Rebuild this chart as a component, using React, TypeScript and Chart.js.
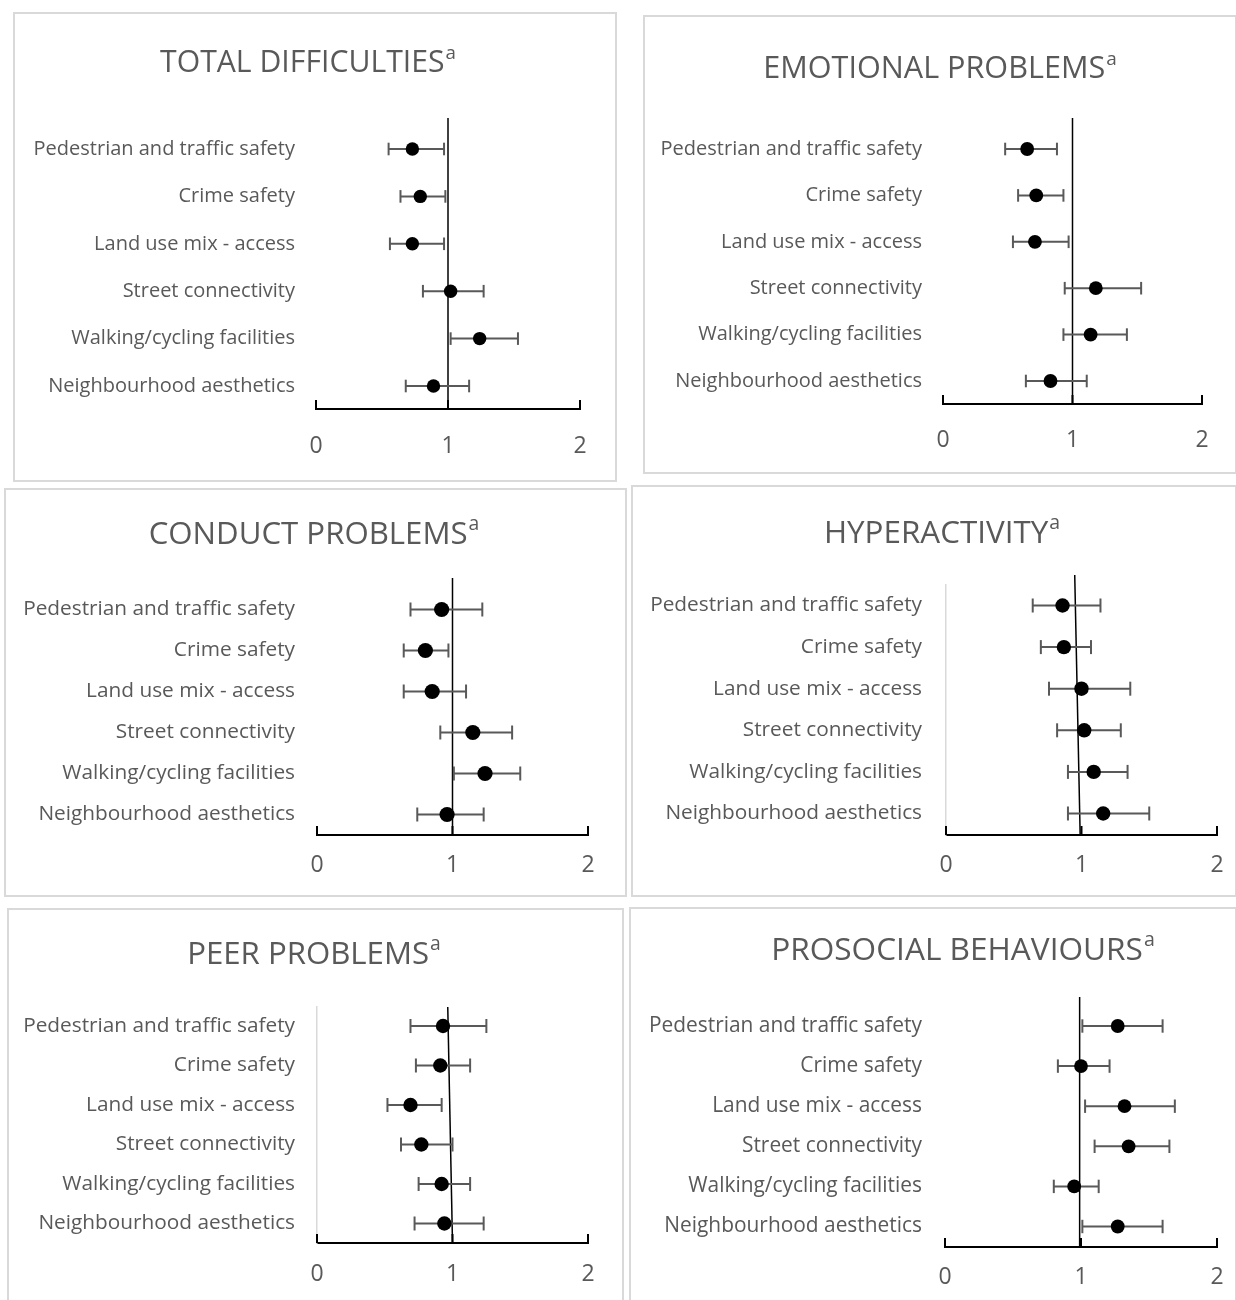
import React, { useEffect, useRef } from "react";
import { Chart, registerables } from "chart.js";

Chart.register(...registerables);

// ---------------- DATA ----------------
const categories = [
  "Pedestrian and traffic safety",
  "Crime safety",
  "Land use mix - access",
  "Street connectivity",
  "Walking/cycling facilities",
  "Neighbourhood aesthetics",
];

const panelTitles = [
  "TOTAL DIFFICULTIES",
  "EMOTIONAL PROBLEMS",
  "CONDUCT PROBLEMS",
  "HYPERACTIVITY",
  "PEER PROBLEMS",
  "PROSOCIAL BEHAVIOURS",
];
const titleSuperscript = "a";

const xTickValues = [0, 1, 2];

const totalOR = [0.73, 0.79, 0.73, 1.02, 1.24, 0.89];
const totalLower = [0.55, 0.64, 0.56, 0.81, 1.02, 0.68];
const totalUpper = [0.97, 0.98, 0.97, 1.27, 1.53, 1.16];

const emotionalOR = [0.65, 0.72, 0.71, 1.18, 1.14, 0.83];
const emotionalLower = [0.48, 0.58, 0.54, 0.94, 0.93, 0.64];
const emotionalUpper = [0.88, 0.93, 0.97, 1.53, 1.42, 1.11];

const conductOR = [0.92, 0.8, 0.85, 1.15, 1.24, 0.96];
const conductLower = [0.69, 0.64, 0.64, 0.91, 1.01, 0.74];
const conductUpper = [1.22, 0.97, 1.1, 1.44, 1.5, 1.23];

const hyperOR = [0.86, 0.87, 1.0, 1.02, 1.09, 1.16];
const hyperLower = [0.64, 0.7, 0.76, 0.82, 0.9, 0.9];
const hyperUpper = [1.14, 1.07, 1.36, 1.29, 1.34, 1.5];

const peerOR = [0.93, 0.91, 0.69, 0.77, 0.92, 0.94];
const peerLower = [0.69, 0.73, 0.52, 0.62, 0.75, 0.72];
const peerUpper = [1.25, 1.13, 0.92, 1.0, 1.13, 1.23];

const prosocialOR = [1.27, 1.0, 1.32, 1.35, 0.95, 1.27];
const prosocialLower = [1.01, 0.83, 1.03, 1.1, 0.8, 1.01];
const prosocialUpper = [1.6, 1.21, 1.69, 1.65, 1.13, 1.6];

// reference line (x at the bottom and at the top of each panel)
const refLineBottom = [1, 1, 1, 0.99, 1.0, 0.99];
const refLineTop = [1, 1, 1, 0.95, 0.965, 0.99];

const panelOR = [totalOR, emotionalOR, conductOR, hyperOR, peerOR, prosocialOR];
const panelLower = [totalLower, emotionalLower, conductLower, hyperLower, peerLower, prosocialLower];
const panelUpper = [totalUpper, emotionalUpper, conductUpper, hyperUpper, peerUpper, prosocialUpper];

// ---------------- LAYOUT (pixels) ----------------
type Geom = {
  L: number; T: number; R: number; B: number;
  x0: number; x2: number;
  top: number; refTop: number; row1: number; row6: number; axis: number;
  yAxisLine: boolean;
  titleX: number; titleY: number; titleSize: number;
  labelSize: number; labelGap: number; tickPad: number;
  dot: number; cap: number;
};

const geoms: Geom[] = [
  { L: 14, T: 13, R: 616, B: 481, x0: 316, x2: 580, top: 118, refTop: 118, row1: 149, row6: 386, axis: 409, yAxisLine: false, titleX: 308, titleY: 61, titleSize: 30.2, labelSize: 20, labelGap: 21, tickPad: 24, dot: 6.7, cap: 6.3 },
  { L: 644, T: 16, R: 1236, B: 473, x0: 943, x2: 1202, top: 118, refTop: 118, row1: 149, row6: 381, axis: 404, yAxisLine: false, titleX: 940, titleY: 66, titleSize: 30.6, labelSize: 20, labelGap: 21, tickPad: 23, dot: 6.9, cap: 6.3 },
  { L: 5, T: 489, R: 626, B: 896, x0: 317, x2: 588, top: 578, refTop: 578, row1: 609.5, row6: 814.5, axis: 835, yAxisLine: false, titleX: 314, titleY: 533, titleSize: 31.2, labelSize: 20.8, labelGap: 22, tickPad: 17, dot: 7.6, cap: 7 },
  { L: 632, T: 486, R: 1236, B: 896, x0: 946, x2: 1217, top: 585, refTop: 575, row1: 605.5, row6: 813.5, axis: 835, yAxisLine: true, titleX: 942, titleY: 531, titleSize: 31.4, labelSize: 20.8, labelGap: 24, tickPad: 17, dot: 7.2, cap: 7 },
  { L: 8, T: 909, R: 623, B: 1302, x0: 317, x2: 588, top: 1007, refTop: 1007, row1: 1026, row6: 1223.5, axis: 1243, yAxisLine: true, titleX: 314, titleY: 953, titleSize: 31.2, labelSize: 20.8, labelGap: 22, tickPad: 18, dot: 7.2, cap: 7 },
  { L: 630, T: 908, R: 1236, B: 1302, x0: 945, x2: 1217, top: 997, refTop: 997, row1: 1026, row6: 1226.5, axis: 1247, yAxisLine: false, titleX: 963, titleY: 948, titleSize: 31.6, labelSize: 20.9, labelGap: 23, tickPad: 17, dot: 6.9, cap: 6.7 },
];

const FONT = "'Open Sans', 'Noto Sans', sans-serif";
const TEXT = "#595959";

const innerTicks = {
  id: "innerTicks",
  afterDraw(chart: any) {
    const xs = chart.scales.x;
    const ctx = chart.ctx;
    const y = chart.chartArea.bottom;
    ctx.save();
    ctx.strokeStyle = "#000";
    ctx.lineWidth = 2;
    xs.ticks.forEach((t: any) => {
      const px = xs.getPixelForValue(t.value);
      ctx.beginPath();
      ctx.moveTo(px, y);
      ctx.lineTo(px, y - 9);
      ctx.stroke();
    });
    ctx.restore();
  },
};

function ForestPanel({ idx }: { idx: number }) {
  const ref = useRef<HTMLCanvasElement | null>(null);
  const g = geoms[idx];
  const W = g.R - g.L;
  const H = g.B - g.T;

  useEffect(() => {
    if (!ref.current) return;
    const n = categories.length;
    const s = (g.row6 - g.row1) / (n - 1);
    const yMax = n + (g.row1 - g.top) / s;
    const yMin = 1 - (g.axis - g.row6) / s;
    const yRefTop = n + (g.row1 - g.refTop) / s;
    const rowVal = (i: number) => n - i;

    const dots = panelOR[idx].map((v, i) => ({ x: v, y: rowVal(i) }));
    const ci: any[] = [];
    panelLower[idx].forEach((lo, i) => {
      ci.push({ x: lo, y: rowVal(i) });
      ci.push({ x: panelUpper[idx][i], y: rowVal(i) });
      ci.push({ x: null, y: null });
    });

    const chart = new Chart(ref.current, {
      type: "scatter",
      data: {
        datasets: [
          {
            data: dots,
            pointRadius: g.dot,
            pointBackgroundColor: "#000",
            pointBorderColor: "#000",
            pointBorderWidth: 0,
            showLine: false,
          } as any,
          {
            data: ci,
            showLine: true,
            spanGaps: false,
            borderColor: "#595959",
            borderWidth: 2,
            pointStyle: "line",
            pointRotation: 90,
            pointRadius: g.cap,
            pointBorderColor: "#595959",
            pointBorderWidth: 2,
            tension: 0,
          } as any,
          {
            data: [
              { x: refLineBottom[idx], y: yMin },
              { x: refLineTop[idx], y: yRefTop },
            ],
            showLine: true,
            borderColor: "#000",
            borderWidth: 1.5,
            pointRadius: 0,
            clip: false,
          } as any,
        ],
      },
      options: {
        responsive: false,
        animation: false,
        events: [],
        layout: { padding: { left: 0, right: g.R - g.x2, top: g.top - g.T, bottom: 0 } },
        plugins: {
          legend: { display: false },
          tooltip: { enabled: false },
          title: { display: false },
        },
        scales: {
          x: {
            type: "linear",
            min: 0,
            max: 2,
            afterBuildTicks: (sc: any) => {
              sc.ticks = xTickValues.map((v) => ({ value: v }));
            },
            afterFit: (sc: any) => {
              sc.height = g.B - g.axis;
              sc.paddingLeft = 0;
              sc.paddingRight = 0;
            },
            grid: { display: true, drawOnChartArea: false, drawTicks: false },
            border: { display: true, color: "#000", width: 2 },
            ticks: {
              color: TEXT,
              font: { family: FONT, size: 23 },
              padding: g.tickPad,
              maxRotation: 0,
              autoSkip: false,
              callback: (v: any) => String(v),
            },
          },
          y: {
            type: "linear",
            min: yMin,
            max: yMax,
            afterBuildTicks: (sc: any) => {
              sc.ticks = categories.map((_, i) => ({ value: rowVal(i) }));
            },
            afterFit: (sc: any) => {
              sc.width = g.x0 - g.L;
              sc.paddingTop = 0;
              sc.paddingBottom = 0;
            },
            grid: { display: true, drawOnChartArea: false, drawTicks: false },
            border: { display: g.yAxisLine, color: "#d9d9d9", width: 1.5 },
            ticks: {
              color: TEXT,
              font: { family: FONT, size: g.labelSize },
              padding: g.labelGap,
              autoSkip: false,
              callback: (v: any) => categories[n - Math.round(v)] ?? "",
            },
          },
        },
      } as any,
      plugins: [innerTicks],
    });
    return () => chart.destroy();
  }, [idx]);

  return (
    <>
      <div
        style={{
          position: "absolute",
          left: g.L,
          top: g.T,
          width: W,
          height: H,
        }}
      >
        <canvas ref={ref} width={W} height={H} style={{ display: "block" }} />
      </div>
      <div
        style={{
          position: "absolute",
          left: g.L - 1,
          top: g.T - 1,
          width: W + 2,
          height: H + 2,
          border: "2px solid #d9d9d9",
          boxSizing: "border-box",
          pointerEvents: "none",
        }}
      />
      <div
        style={{
          position: "absolute",
          left: g.titleX,
          top: g.titleY,
          transform: "translate(-50%, -50%)",
          whiteSpace: "nowrap",
          fontFamily: FONT,
          fontSize: g.titleSize,
          color: TEXT,
          lineHeight: 1,
        }}
      >
        {panelTitles[idx]}
        <span style={{ fontSize: "0.62em", position: "relative", top: "-0.7em", marginLeft: 1 }}>{titleSuperscript}</span>
      </div>
    </>
  );
}

export default function App() {
  return (
    <div
      style={{
        position: "absolute",
        left: 0,
        top: 0,
        width: 1236,
        height: 1300,
        overflow: "hidden",
        background: "#fff",
      }}
    >
      {panelTitles.map((_, i) => (
        <ForestPanel key={i} idx={i} />
      ))}
    </div>
  );
}
